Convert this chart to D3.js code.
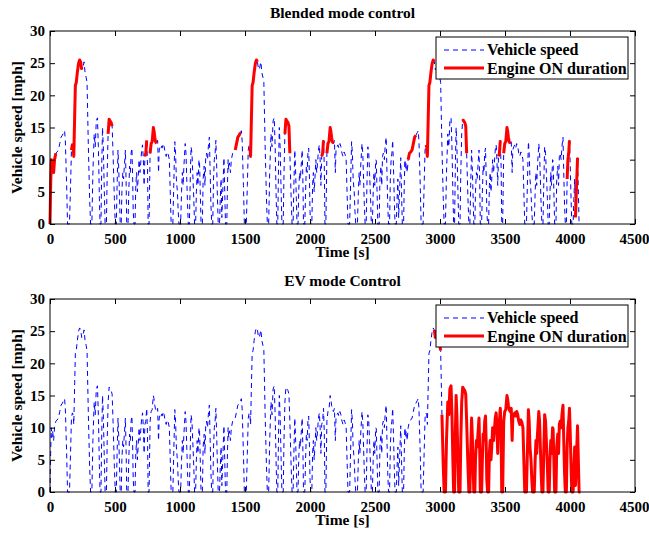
<!DOCTYPE html>
<html>
<head>
<meta charset="utf-8">
<script src="https://cdn.jsdelivr.net/npm/d3@7"></script>
<style>
  body { margin: 0; background: #fff; }
  text { font-family: "Liberation Serif", "Times New Roman", serif; font-weight: bold; }
</style>
</head>
<body>
<div id="chart"></div>
<script>
// one cycle of the drive cycle (the trace repeats it 3 times)
var cycleTime = [0, 5, 10, 15, 20, 28, 35, 45, 55, 65, 75, 85, 95, 105, 112, 118, 128, 135, 150,
  158, 165, 172, 178, 183, 190, 195, 202, 210, 220, 228, 236, 244, 252, 262, 270, 278, 285, 295, 305, 312,
  322, 330, 340, 348, 356, 365, 372, 380, 385, 392, 398, 404, 410, 418, 424, 434, 440, 447, 455, 462,
  470, 478, 485, 495, 502, 510, 516, 523, 528, 535, 540, 548, 553, 560, 566, 572, 580, 586, 590, 600,
  606, 612, 618, 624, 630, 636, 640, 646, 654, 660, 666, 672, 678, 685, 692, 698, 705, 712, 718, 724,
  730, 737, 744, 750, 755, 762, 770, 778, 786, 795, 800, 806, 812, 820, 828, 835, 840, 848, 855, 862,
  870, 878, 886, 894, 902, 910, 918, 925, 932, 945, 952, 960, 966, 972, 980, 986, 992, 1005, 1012, 1018,
  1024, 1030, 1040, 1046, 1052, 1058, 1064, 1072, 1078, 1085, 1092, 1098, 1106, 1112, 1120, 1126, 1132,
  1138, 1146, 1150, 1156, 1162, 1172, 1178, 1186, 1192, 1198, 1204, 1212, 1218, 1226, 1232, 1238, 1244,
  1252, 1258, 1264, 1270, 1276, 1282, 1288, 1294, 1304, 1310, 1316, 1322, 1338, 1350, 1360];
var cycleSpeed = [0, 6, 10, 8.5, 9.5, 8, 10, 11, 11.2, 11.5, 12.5, 13.5, 13.8, 14.2, 14.5, 13, 6, 0, 0,
  6, 11.5, 12.3, 12, 10.5, 17, 21.5, 22, 23.5, 25, 25.5, 25.2, 24, 24.2, 25.2, 23.5, 22.8, 22, 12, 4, 0,
  0, 8, 14, 12, 16, 16.5, 12, 4, 0, 0, 9, 15, 12, 5, 0, 0, 8, 14, 16.3, 16,
  15.8, 15.2, 11, 4, 0, 0, 6, 11.5, 9, 4, 0, 0, 5, 8, 7, 9, 11.5, 6, 0, 0,
  5, 9, 8, 11, 11.8, 7, 2, 0, 0, 6, 8, 5, 7, 10, 8, 9.5, 11.5, 12.3, 10, 6,
  10.5, 11, 13, 9, 0, 0, 11, 12.5, 12.8, 15, 14.5, 13.5, 12.8, 12.5, 13, 8, 11.5, 12, 12.3, 11.8,
  12.5, 12, 11, 10.5, 11.2, 10.8, 10, 5, 0, 0, 6, 12.8, 11, 7, 5, 2, 0, 0, 5, 8,
  6, 9, 12.5, 11, 7, 3, 0, 0, 6, 12, 11, 8, 4, 0, 0, 5, 8,
  6, 10, 9.8, 5, 0, 0, 7, 9, 6, 10.5, 11, 10, 12, 13.5, 8, 3, 0,
  0, 7, 10, 11, 13, 9, 4, 0, 0, 4, 7, 1, 10.3, 0, 0];
var cycleLength = 1360;
var cycleCount = 3;

// engine ON time windows [start, end] in seconds
var blendedOnStart = [0, 165, 444, 730, 770, 1423, 1533, 1803, 2090, 2130, 2754, 2892, 3169, 3450, 3490, 3978, 4038];
var blendedOnEnd = [46, 244, 482, 744, 822, 1467, 1602, 1846, 2104, 2182, 2823, 2962, 3208, 3464, 3542, 3996, 4062];
var evOnStart = [2955, 3015];
var evOnEnd = [3005, 4080];

var xTicks = [0, 500, 1000, 1500, 2000, 2500, 3000, 3500, 4000, 4500];
var yTicks = [0, 5, 10, 15, 20, 25, 30];

var panels = [
  { title: "Blended mode control", top: 31, onStart: blendedOnStart, onEnd: blendedOnEnd },
  { title: "EV mode Control", top: 299, onStart: evOnStart, onEnd: evOnEnd },
];

// build the full trace
var speedData = [];
for (var c = 0; c < cycleCount; c++) {
  cycleTime.forEach(function (t, i) {
    if (c > 0 && i == 0) return;
    speedData.push({ t: t + c * cycleLength, v: cycleSpeed[i] });
  });
}

var W = 649, H = 533;
var left = 50, right = 635, plotH = 193;

var svg = d3.select("#chart").append("svg")
  .attr("width", W).attr("height", H)
  .style("background", "#fff");

panels.forEach(function (p) {
  var x = d3.scaleLinear().domain([0, 4500]).range([left, right]);
  var y = d3.scaleLinear().domain([0, 30]).range([p.top + plotH, p.top]);

  var g = svg.append("g");

  var line = d3.line().x((d) => x(d.t)).y((d) => y(d.v));

  g.append("path")
    .datum(speedData)
    .attr("d", line)
    .attr("fill", "none")
    .attr("stroke", "#0000ff")
    .attr("stroke-width", 1)
    .attr("stroke-dasharray", "5,4");

  p.onStart.forEach(function (s, i) {
    var seg = speedData.filter((d) => d.t >= s && d.t <= p.onEnd[i]);
    g.append("path")
      .datum(seg)
      .attr("d", line)
      .attr("fill", "none")
      .attr("stroke", "#ff0000")
      .attr("stroke-width", 3)
      .attr("stroke-linejoin", "round");
  });

  // axes, MATLAB style: box with inward ticks on all sides
  var ax = g.append("g").attr("transform", `translate(0,${p.top + plotH})`)
    .call(d3.axisBottom(x).tickValues(xTicks).tickFormat(d3.format("d"))
      .tickSizeInner(-5).tickSizeOuter(0).tickPadding(9));
  var axT = g.append("g").attr("transform", `translate(0,${p.top})`)
    .call(d3.axisTop(x).tickValues(xTicks).tickSizeInner(-5).tickSizeOuter(0).tickFormat(""));
  var ay = g.append("g").attr("transform", `translate(${left},0)`)
    .call(d3.axisLeft(y).tickValues(yTicks).tickSizeInner(-5).tickSizeOuter(0).tickPadding(5));
  var ayR = g.append("g").attr("transform", `translate(${right},0)`)
    .call(d3.axisRight(y).tickValues(yTicks).tickSizeInner(-5).tickSizeOuter(0).tickFormat(""));

  [ax, axT, ay, ayR].forEach(function (a) {
    a.select(".domain").remove();
    a.selectAll("line").attr("stroke", "#000");
    a.selectAll("text")
      .attr("fill", "#000")
      .style("font-size", "15px")
      .style("font-family", '"Liberation Serif", serif')
      .style("font-weight", "bold");
  });
  // keep the last x label inside the window
  ax.selectAll(".tick text").filter((d) => d == 4500)
    .attr("text-anchor", "end").attr("x", 14);

  g.append("rect")
    .attr("x", left).attr("y", p.top)
    .attr("width", right - left).attr("height", plotH)
    .attr("fill", "none").attr("stroke", "#000").attr("stroke-width", 1);

  g.append("text")
    .attr("x", (left + right) / 2).attr("y", p.top - 13)
    .attr("text-anchor", "middle")
    .style("font-size", "15.5px")
    .text(p.title);

  g.append("text")
    .attr("x", (left + right) / 2).attr("y", p.top + plotH + 33)
    .attr("text-anchor", "middle")
    .style("font-size", "15.5px")
    .text("Time [s]");

  g.append("text")
    .attr("transform", `translate(22,${p.top + plotH / 2}) rotate(-90)`)
    .attr("text-anchor", "middle")
    .style("font-size", "15.5px")
    .text("Vehicle speed [mph]");

  // legend
  var lg = g.append("g").attr("transform", `translate(436,${p.top + 6})`);
  lg.append("rect").attr("width", 192).attr("height", 42)
    .attr("fill", "#fff").attr("stroke", "#000");
  lg.append("line").attr("x1", 8).attr("x2", 48).attr("y1", 13).attr("y2", 13)
    .attr("stroke", "#0000ff").attr("stroke-dasharray", "5,4");
  lg.append("line").attr("x1", 8).attr("x2", 48).attr("y1", 31).attr("y2", 31)
    .attr("stroke", "#ff0000").attr("stroke-width", 3);
  lg.append("text").attr("x", 51).attr("y", 18).style("font-size", "16px").text("Vehicle speed");
  lg.append("text").attr("x", 51).attr("y", 37).style("font-size", "16px").text("Engine ON duration");
});
</script>
</body>
</html>
